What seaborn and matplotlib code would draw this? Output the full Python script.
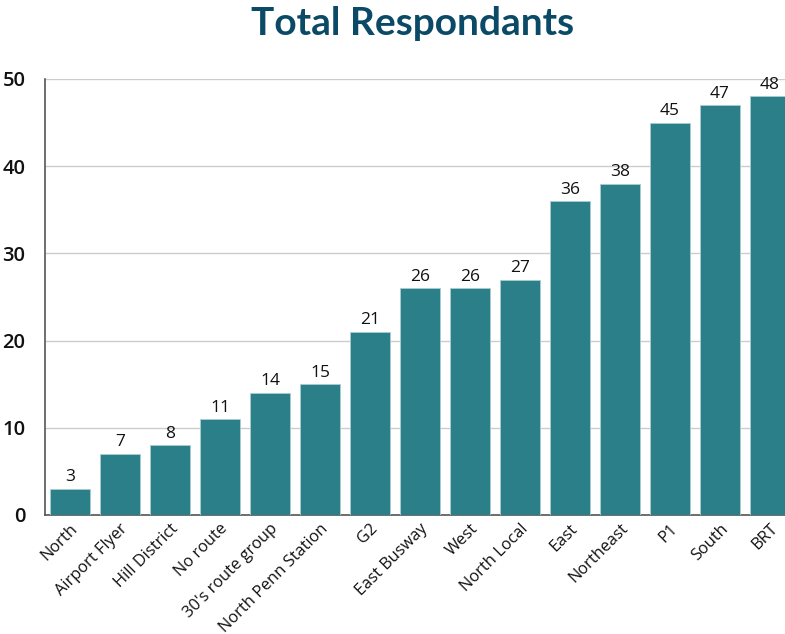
import matplotlib
matplotlib.use("Agg")
import matplotlib.pyplot as plt
import seaborn as sns
import pandas as pd

categories = ["North", "Airport Flyer", "Hill District", "No route", "30's route group",
              "North Penn Station", "G2", "East Busway", "West", "North Local", "East",
              "Northeast", "P1", "South", "BRT"]
values = [3, 7, 8, 11, 14, 15, 21, 26, 26, 27, 36, 38, 45, 47, 48]
yticks = [0, 10, 20, 30, 40, 50]

sns.set_style("white")
plt.rcParams['font.family'] = ['Open Sans', 'DejaVu Sans']

df = pd.DataFrame({"route": categories, "count": values})

fig = plt.figure(figsize=(7.85, 6.34), dpi=100)
ax = fig.add_axes([45/785, (634-515)/634, 1 - 45/785, (515-79)/634])

sns.barplot(data=df, x="route", y="count", color="#2b7f89", saturation=1,
            width=0.8, ax=ax, zorder=3, edgecolor="#a9cdd2", linewidth=0.6)

for i, v in enumerate(values):
    ax.text(i, v + 0.4, str(v), ha="center", va="bottom", fontsize=12.5, color="#111111")

ax.set_ylim(0, 50)
ax.set_xlim(-0.5, 14.3)
ax.set_yticks(yticks)
ax.set_yticklabels([str(t) for t in yticks], fontsize=14.5, fontweight="semibold", color="#111111")
ax.yaxis.grid(True, color="#cccccc", linewidth=1, zorder=0)
ax.set_axisbelow(True)
ax.set_xticks(range(len(categories)))
ax.set_xticklabels(categories, rotation=45, ha="right", rotation_mode="anchor",
                   fontsize=11.8, color="#111111")
ax.tick_params(axis="x", length=0, pad=4)
ax.tick_params(axis="y", length=0, pad=14)
ax.set_xlabel("")
ax.set_ylabel("")
for s in ["top", "right"]:
    ax.spines[s].set_visible(False)
ax.spines["left"].set_color("#555555")
ax.spines["bottom"].set_color("#555555")
ax.spines["left"].set_linewidth(1.2)
ax.spines["bottom"].set_linewidth(1.2)

fig.text(0.525, 0.963, "Total Respondants", ha="center", va="center",
         fontsize=28, fontweight="bold", color="#0b4a66", family=["Lato", "DejaVu Sans"])

fig.savefig("out.png", dpi=100)
